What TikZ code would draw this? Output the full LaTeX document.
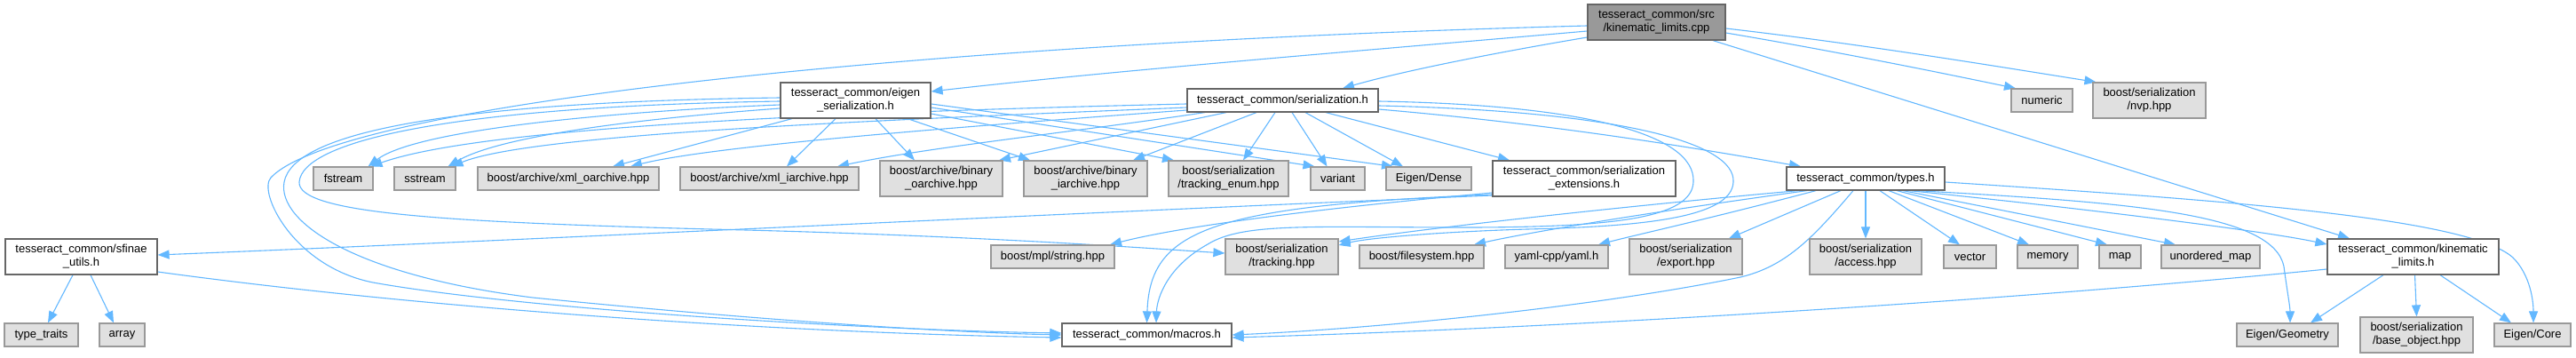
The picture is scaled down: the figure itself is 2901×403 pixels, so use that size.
\documentclass[tikz,border=0pt]{standalone}
\usepackage{fontspec}
\setmainfont{Liberation Sans}
\usetikzlibrary{arrows.meta,backgrounds}
\definecolor{edgec}{HTML}{63B8FF}
\definecolor{gfill}{HTML}{E0E0E0}
\definecolor{gdraw}{HTML}{999999}
\definecolor{wdraw}{HTML}{666666}
\definecolor{tfill}{HTML}{999999}
\newcommand\dfont{\fontsize{13}{15}\selectfont}
\tikzset{
  nbase/.style={inner sep=0pt, align=center, font=\dfont, line width=1.2pt},
  gbox/.style={nbase, draw=gdraw, fill=gfill},
  wbox/.style={nbase, draw=wdraw, fill=white},
  tbox/.style={nbase, draw=wdraw, fill=tfill},
  hone/.style={minimum height=26pt},
  htwo/.style={minimum height=40pt},
  edge/.style={draw=edgec, line width=1.1pt, -{Triangle[length=13pt,width=10pt]}},
}
\begin{document}
\begin{tikzpicture}[x=1pt,y=-1pt]
\useasboundingbox (0,0) rectangle (2901,403);
% nodes
\node[tbox,htwo,minimum width=155pt] (cpp) at (1865.5,25) {tesseract\_common/src\\/kinematic\_limits.cpp};
\node[wbox,htwo,minimum width=169pt] (eigen) at (963.5,113) {tesseract\_common/eigen\\\_serialization.h};
\node[wbox,hone,minimum width=215pt] (ser) at (1444.5,113) {tesseract\_common/serialization.h};
\node[gbox,hone,minimum width=69pt] (numeric) at (2299.5,113) {numeric};
\node[gbox,htwo,minimum width=127pt] (nvp) at (2420.5,113) {boost/serialization\\/nvp.hpp};
\node[gbox,hone,minimum width=67pt] (fstream) at (386.5,201) {fstream};
\node[gbox,hone,minimum width=69pt] (sstream) at (478.5,201) {sstream};
\node[gbox,hone,minimum width=204pt] (xmlo) at (640,201) {boost/archive/xml\_oarchive.hpp};
\node[gbox,hone,minimum width=201pt] (xmli) at (866.5,201) {boost/archive/xml\_iarchive.hpp};
\node[gbox,htwo,minimum width=138pt] (bino) at (1060,201) {boost/archive/binary\\\_oarchive.hpp};
\node[gbox,htwo,minimum width=139pt] (bini) at (1222.5,201) {boost/archive/binary\\\_iarchive.hpp};
\node[gbox,htwo,minimum width=135pt] (tenum) at (1383.5,201) {boost/serialization\\/tracking\_enum.hpp};
\node[gbox,hone,minimum width=61pt] (variant) at (1506.5,201) {variant};
\node[gbox,hone,minimum width=96pt] (dense) at (1609,201) {Eigen/Dense};
\node[wbox,htwo,minimum width=206pt] (serext) at (1784,201) {tesseract\_common/serialization\\\_extensions.h};
\node[wbox,hone,minimum width=178pt] (types) at (2101,201) {tesseract\_common/types.h};
\node[wbox,htwo,minimum width=171pt] (sfinae) at (91.5,289) {tesseract\_common/sfinae\\\_utils.h};
\node[gbox,hone,minimum width=139pt] (mpl) at (1185.5,289) {boost/mpl/string.hpp};
\node[gbox,htwo,minimum width=127pt] (tracking) at (1443.5,289) {boost/serialization\\/tracking.hpp};
\node[gbox,hone,minimum width=140pt] (fs) at (1601,289) {boost/filesystem.hpp};
\node[gbox,hone,minimum width=116pt] (yaml) at (1753,289) {yaml-cpp/yaml.h};
\node[gbox,htwo,minimum width=127pt] (export) at (1898.5,289) {boost/serialization\\/export.hpp};
\node[gbox,htwo,minimum width=126pt] (access) at (2101,289) {boost/serialization\\/access.hpp};
\node[gbox,hone,minimum width=59pt] (vector) at (2218.5,289) {vector};
\node[gbox,hone,minimum width=68pt] (memory) at (2306,289) {memory};
\node[gbox,hone,minimum width=47pt] (map) at (2387.5,289) {map};
\node[gbox,hone,minimum width=111pt] (umap) at (2489.5,289) {unordered\_map};
\node[wbox,htwo,minimum width=193pt] (kinh) at (2717.5,289) {tesseract\_common/kinematic\\\_limits.h};
\node[gbox,hone,minimum width=83pt] (tt) at (46.5,377) {type\_traits};
\node[gbox,hone,minimum width=51pt] (array) at (137.5,377) {array};
\node[wbox,hone,minimum width=191pt] (macros) at (1291.5,377) {tesseract\_common/macros.h};
\node[gbox,hone,minimum width=114pt] (geom) at (2576,377) {Eigen/Geometry};
\node[gbox,htwo,minimum width=127pt] (base) at (2721.5,377) {boost/serialization\\/base\_object.hpp};
\node[gbox,hone,minimum width=86pt] (core) at (2852,377) {Eigen/Core};
% edges
\begin{pgfonlayer}{background}
\fill[white] (0,0) rectangle (2901,403);
% from cpp
\draw[edge] ([yshift=-4]cpp.west) .. controls (1000,50) and (380,120) .. (305,200) .. controls (290,216) and (330,300) .. (420,318) .. controls (600,350) and (1000,372) .. ([yshift=2]macros.west);
\draw[edge] ([yshift=-10]cpp.west) .. controls (1500,60) and (1250,80) .. ([yshift=10]eigen.east);
\draw[edge] ([yshift=-17]cpp.west) .. controls (1680,60) and (1580,80) .. ([xshift=67.5]ser.north);
\draw[edge] ([xshift=63.5]cpp.south) -- ([xshift=-71.5]kinh.north);
\draw[edge] ([yshift=-12]cpp.east) .. controls (2080,60) and (2200,85) .. ([xshift=-29.5]numeric.north);
\draw[edge] ([yshift=-7]cpp.east) .. controls (2100,50) and (2250,75) .. ([xshift=-60]nvp.north);
% from eigen
\draw[edge] ([yshift=-5]eigen.west) .. controls (700,125) and (470,145) .. ([xshift=28]fstream.north);
\draw[edge] ([yshift=-9]eigen.west) .. controls (700,135) and (560,155) .. ([xshift=26]sstream.north);
\draw[edge] ([xshift=-71.5]eigen.south) -- ([xshift=50]xmlo.north);
\draw[edge] ([xshift=-22.5]eigen.south) -- ([xshift=19.5]xmli.north);
\draw[edge] ([xshift=22.5]eigen.south) -- ([xshift=-30]bino.north);
\draw[edge] ([xshift=58.5]eigen.south) -- ([xshift=-62.5]bini.north);
\draw[edge] ([yshift=-15]eigen.east) -- ([xshift=-61.5]tenum.north);
\draw[edge] ([yshift=-8]eigen.east) -- ([xshift=-26]variant.north);
\draw[edge] ([yshift=-4]eigen.east) -- ([xshift=-40]dense.north);
\draw[edge] ([yshift=-1]eigen.west) .. controls (500,120) and (340,160) .. (337,205) .. controls (335,240) and (500,250) .. (800,258) .. controls (1100,265) and (1300,280) .. ([yshift=4]tracking.west);
\draw[edge] ([yshift=3]eigen.west) .. controls (500,115) and (330,150) .. (320,205) .. controls (312,250) and (400,310) .. (600,335) .. controls (900,365) and (1100,375) .. (macros.west);
% from ser
\draw[edge] ([yshift=-4]ser.west) .. controls (1000,125) and (550,140) .. ([xshift=31]fstream.north);
\draw[edge] ([yshift=-8]ser.west) .. controls (1000,135) and (600,150) .. ([xshift=30]sstream.north);
\draw[edge] ([yshift=-11]ser.west) .. controls (1050,145) and (800,165) .. ([xshift=70]xmlo.north);
\draw[edge] ([xshift=-87.5]ser.south) .. controls (1200,150) and (1050,165) .. ([xshift=76.5]xmli.north);
\draw[edge] ([xshift=-63.5]ser.south) -- ([xshift=65]bino.north);
\draw[edge] ([xshift=-29.5]ser.south) -- ([xshift=53.5]bini.north);
\draw[edge] ([xshift=-8.5]ser.south) -- ([xshift=16.5]tenum.north);
\draw[edge] ([xshift=10.5]ser.south) -- ([xshift=-12]variant.north);
\draw[edge] ([xshift=25.5]ser.south) -- ([xshift=-29]dense.north);
\draw[edge] ([xshift=48.5]ser.south) -- ([xshift=-84]serext.north);
\draw[edge] ([yshift=-10]ser.east) .. controls (1750,140) and (1900,165) .. ([xshift=-73]types.north);
\draw[edge] ([yshift=-1]ser.east) .. controls (1780,118) and (1910,150) .. (1907,205) .. controls (1905,245) and (1820,256) .. (1650,256) .. controls (1480,256) and (1400,250) .. (1360,275) .. controls (1315,300) and (1303,335) .. ([xshift=10.5]macros.north);
\draw[edge] ([yshift=-6]ser.east) .. controls (1820,125) and (1955,160) .. (1952,205) .. controls (1950,245) and (1850,255) .. (1720,258) .. controls (1620,261) and (1540,268) .. ([yshift=13]tracking.east);
% from serext
\draw[edge] ([yshift=-16]serext.west) .. controls (1480,235) and (1330,255) .. ([xshift=64.5]mpl.north);
\draw[edge] ([yshift=-18]serext.west) .. controls (1360,232) and (1295,260) .. (macros.north);
\draw[edge] ([yshift=-19]serext.west) .. controls (1200,240) and (600,270) .. ([yshift=2]sfinae.east);
% from types
\draw[edge] ([xshift=-76]types.south) .. controls (1800,235) and (1600,258) .. ([yshift=17]tracking.east);
\draw[edge] ([xshift=-66]types.south) .. controls (1850,240) and (1720,262) .. ([xshift=59]fs.north);
\draw[edge] ([xshift=-56]types.south) .. controls (1930,245) and (1840,265) .. ([xshift=47]yaml.north);
\draw[edge] ([xshift=-28]types.south) -- ([xshift=48.5]export.north);
\draw[edge] ([xshift=-14]types.south) .. controls (2040,270) and (2010,300) .. (1960,312) .. controls (1800,345) and (1550,370) .. (macros.east);
\draw[edge] (types.south) -- (access.north);
\draw[edge] ([xshift=16]types.south) -- ([xshift=-11.5]vector.north);
\draw[edge] ([xshift=26]types.south) -- ([xshift=-21]memory.north);
\draw[edge] ([xshift=35]types.south) -- ([xshift=-14.5]map.north);
\draw[edge] ([xshift=42]types.south) -- ([xshift=-39.5]umap.north);
\draw[edge] ([xshift=49]types.south) .. controls (2350,235) and (2550,260) .. ([yshift=14]kinh.west);
\draw[edge] ([xshift=57]types.south) .. controls (2400,228) and (2560,240) .. (2572,300) .. controls (2576,330) and (2579,345) .. ([xshift=3]geom.north);
\draw[edge] ([yshift=-4]types.east) .. controls (2500,225) and (2780,245) .. (2830,290) .. controls (2850,310) and (2853,340) .. ([xshift=1]core.north);
% from kinh
\draw[edge] ([yshift=-14]kinh.west) .. controls (2300,335) and (1800,368) .. ([yshift=-3]macros.east);
\draw[edge] ([xshift=-33.5]kinh.south) -- ([xshift=26]geom.north);
\draw[edge] ([xshift=2]kinh.south) -- (base.north);
\draw[edge] ([xshift=30.5]kinh.south) -- ([xshift=-24]core.north);
% from sfinae
\draw[edge] ([xshift=-9.5]sfinae.south) -- ([xshift=7.5]tt.north);
\draw[edge] ([xshift=10.5]sfinae.south) -- ([xshift=-9.5]array.north);
\draw[edge] ([yshift=-17]sfinae.east) .. controls (500,350) and (900,375) .. ([yshift=-3]macros.west);
\end{pgfonlayer}
\end{tikzpicture}
\end{document}
